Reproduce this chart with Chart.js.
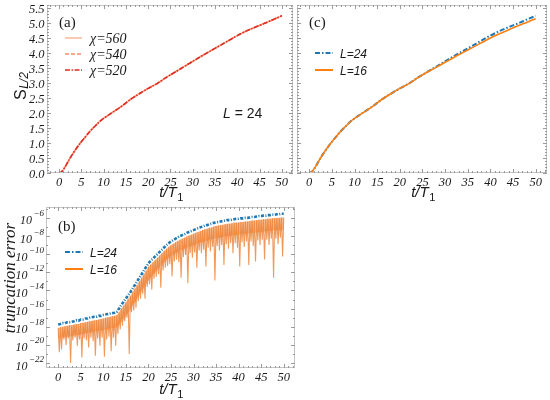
<!DOCTYPE html>
<html>
<head>
<meta charset="utf-8">
<script src="https://cdn.jsdelivr.net/npm/chart.js@4.4.0/dist/chart.umd.min.js"></script>
<style>
  html, body { margin: 0; padding: 0; background: #fff; }
  #wrap { position: relative; width: 550px; height: 400px; }
  #wrap canvas { position: absolute; left: 0; top: 0; }
</style>
</head>
<body>
<div id="wrap">
  <canvas id="chartA" width="550" height="400"></canvas>
  <canvas id="chartC" width="550" height="400"></canvas>
  <canvas id="chartB" width="550" height="400"></canvas>
</div>
<script>
// entanglement entropy S_L/2 against t/T1, panels (a) and (c)
const tS = [0, 0.5, 1, 1.5, 2, 2.5, 3, 4, 5, 6, 7, 8, 9, 10, 12, 14, 16, 18, 20, 22, 24, 26, 28, 30, 32, 34, 36, 38, 40, 42, 44, 46, 48, 50];
const sL24 = [0, 0.03, 0.12, 0.24, 0.37, 0.5, 0.62, 0.84, 1.04, 1.22, 1.4, 1.55, 1.7, 1.82, 2.02, 2.22, 2.45, 2.64, 2.82, 2.98, 3.18, 3.36, 3.54, 3.72, 3.9, 4.07, 4.24, 4.41, 4.58, 4.73, 4.86, 4.98, 5.11, 5.24];
const sL16 = [0, 0.03, 0.12, 0.24, 0.37, 0.5, 0.62, 0.84, 1.04, 1.22, 1.4, 1.55, 1.7, 1.82, 2.02, 2.22, 2.45, 2.64, 2.82, 2.98, 3.18, 3.36, 3.52, 3.69, 3.86, 4.02, 4.18, 4.34, 4.5, 4.64, 4.77, 4.9, 5.02, 5.14];

// truncation error (log10), panel (b): tops on the grid, dips half way between
const tGrid = [0, 0.5, 1, 1.5, 2, 2.5, 3, 3.5, 4, 4.5, 5, 5.5, 6, 6.5, 7, 7.5, 8, 8.5, 9, 9.5,
  10, 10.5, 11, 11.5, 12, 12.5, 13, 13.5, 14, 14.5, 15, 15.5, 16, 16.5, 17, 17.5, 18, 18.5, 19, 19.5,
  20, 20.5, 21, 21.5, 22, 22.5, 23, 23.5, 24, 24.5, 25, 25.5, 26, 26.5, 27, 27.5, 28, 28.5, 29, 29.5,
  30, 30.5, 31, 31.5, 32, 32.5, 33, 33.5, 34, 34.5, 35, 35.5, 36, 36.5, 37, 37.5, 38, 38.5, 39, 39.5,
  40, 40.5, 41, 41.5, 42, 42.5, 43, 43.5, 44, 44.5, 45, 45.5, 46, 46.5, 47, 47.5, 48, 48.5, 49, 49.5, 50];
const errTop24 = [-17.75, -17.7, -17.6, -17.6, -17.5, -17.5, -17.45, -17.4, -17.3, -17.35,
  -17.2, -17.2, -17.1, -17.1, -17.0, -16.95, -16.9, -16.9, -16.8, -16.8,
  -16.7, -16.65, -16.6, -16.55, -16.5, -16.45, -16.35, -16.0, -15.6, -15.25,
  -14.9, -14.55, -14.2, -13.8, -13.4, -13.0, -12.6, -12.2, -11.8, -11.4,
  -11.0, -10.75, -10.5, -10.25, -10.0, -9.75, -9.5, -9.25, -9.0, -8.8,
  -8.6, -8.45, -8.3, -8.15, -8.0, -7.9, -7.8, -7.65, -7.55, -7.45,
  -7.35, -7.25, -7.15, -7.05, -6.95, -6.85, -6.8, -6.7, -6.65, -6.55,
  -6.5, -6.45, -6.4, -6.35, -6.3, -6.25, -6.25, -6.2, -6.15, -6.1,
  -6.1, -6.05, -6.05, -6.0, -6.0, -5.95, -5.9, -5.9, -5.85, -5.8,
  -5.8, -5.75, -5.75, -5.7, -5.7, -5.65, -5.65, -5.6, -5.6, -5.55, -5.55];
const errTop16 = [-18.15, -18.05, -18.0, -17.95, -17.9, -17.85, -17.85, -17.75, -17.7, -17.7,
  -17.6, -17.55, -17.5, -17.45, -17.4, -17.35, -17.3, -17.25, -17.2, -17.15,
  -17.1, -17.0, -16.95, -16.9, -16.85, -16.8, -16.7, -16.4, -16.0, -15.65,
  -15.3, -14.95, -14.6, -14.2, -13.8, -13.4, -13.0, -12.6, -12.2, -11.8,
  -11.4, -11.15, -10.9, -10.65, -10.4, -10.15, -9.9, -9.65, -9.4, -9.2,
  -9.0, -8.85, -8.7, -8.55, -8.4, -8.3, -8.2, -8.05, -7.95, -7.85,
  -7.75, -7.65, -7.55, -7.45, -7.35, -7.25, -7.2, -7.1, -7.05, -6.95,
  -6.9, -6.85, -6.8, -6.75, -6.7, -6.65, -6.65, -6.6, -6.55, -6.5,
  -6.5, -6.45, -6.45, -6.4, -6.4, -6.35, -6.3, -6.3, -6.25, -6.2,
  -6.2, -6.15, -6.15, -6.1, -6.1, -6.05, -6.05, -6.0, -6.0, -5.95, -5.95];
const errDip16 = [-20.8, -20.5, -19.4, -20.0, -19.3, -22.0, -19.5, -19.2, -20.1, -19.4,
  -21.4, -19.3, -19.5, -20.3, -19.2, -19.6, -21.2, -19.3, -20.1, -19.2,
  -21.3, -19.4, -19.1, -20.7, -19.2, -20.1, -18.8, -18.3, -17.9, -17.4,
  -17.0, -21.0, -16.4, -16.2, -15.9, -15.2, -14.9, -14.4, -14.9, -13.6,
  -13.3, -13.9, -12.7, -12.5, -12.2, -13.7, -11.8, -11.5, -11.3, -11.1,
  -12.45, -10.8, -10.6, -10.9, -12.6, -10.3, -10.1, -13.2, -9.9, -10.4,
  -9.8, -11.5, -9.6, -9.9, -9.5, -11.35, -9.3, -9.7, -9.2, -12.9,
  -9.1, -9.6, -9.0, -11.2, -8.9, -9.4, -8.8, -9.9, -8.8, -9.3,
  -11.35, -8.7, -9.2, -8.6, -11.2, -8.6, -9.1, -10.8, -8.5, -9.0,
  -8.4, -10.6, -8.4, -9.0, -8.3, -12.6, -8.3, -8.9, -8.2, -10.25];
// lower edge of the dense part of the L=16 band
const errBand16 = [-19.3, -19.25, -19.2, -19.2, -19.1, -19.1, -19.05, -19.0, -18.95, -18.9,
  -18.85, -18.8, -18.75, -18.7, -18.65, -18.6, -18.55, -18.5, -18.45, -18.4,
  -18.35, -18.3, -18.25, -18.2, -18.15, -18.1, -18.0, -17.8, -17.5, -17.2,
  -16.9, -16.5, -16.1, -15.7, -15.3, -14.9, -14.5, -14.1, -13.7, -13.3,
  -12.9, -12.6, -12.3, -12.0, -11.7, -11.4, -11.1, -10.85, -10.6, -10.4,
  -10.2, -10.05, -9.9, -9.75, -9.6, -9.5, -9.4, -9.3, -9.2, -9.1,
  -9.0, -8.9, -8.8, -8.7, -8.65, -8.55, -8.5, -8.4, -8.35, -8.3,
  -8.25, -8.2, -8.15, -8.1, -8.05, -8.0, -8.0, -7.95, -7.9, -7.85,
  -7.85, -7.8, -7.8, -7.75, -7.75, -7.7, -7.65, -7.65, -7.6, -7.55,
  -7.55, -7.5, -7.5, -7.45, -7.45, -7.4, -7.4, -7.35, -7.35, -7.3, -7.3];

// tick labels
const tTicks = [0, 5, 10, 15, 20, 25, 30, 35, 40, 45, 50];
const sTicks = [0, 0.5, 1, 1.5, 2, 2.5, 3, 3.5, 4, 4.5, 5, 5.5];
const errExps = [-6, -8, -10, -12, -14, -16, -18, -20, -22];

const tMinor = [];
for (let v = -2; v <= 52; v++) tMinor.push(v);
const sMinor = [];
for (let i = 0; i <= 56; i++) sMinor.push(i / 10);
const errMinor = [];
for (let e = -22; e <= -5; e++) errMinor.push(Math.pow(10, e));

const SERIF = '"Liberation Serif", "DejaVu Serif", serif';
const SANS = '"Liberation Sans", "DejaVu Sans", sans-serif';
const INK = '#1a1a1a';

function toXY(xs, ys) {
  return xs.map((x, i) => ({ x: x, y: ys[i] }));
}

function errSeries(tops, dips) {
  const out = [];
  tops.forEach((v, i) => {
    out.push({ x: tGrid[i], y: Math.pow(10, v) });
    if (dips && i < dips.length) out.push({ x: tGrid[i] + 0.25, y: Math.pow(10, dips[i]) });
  });
  return out;
}

function tickMarks(chart, axis, values, len) {
  const ctx = chart.ctx, a = chart.chartArea, sc = chart.scales[axis];
  ctx.beginPath();
  values.forEach(v => {
    const p = Math.round(sc.getPixelForValue(v)) + 0.5;
    if (axis === 'x') {
      if (p < a.left || p > a.right) return;
      ctx.moveTo(p, a.bottom); ctx.lineTo(p, a.bottom - len);
      ctx.moveTo(p, a.top); ctx.lineTo(p, a.top + len);
    } else {
      if (p < a.top - 0.5 || p > a.bottom + 0.5) return;
      ctx.moveTo(a.left, p); ctx.lineTo(a.left + len, p);
      ctx.moveTo(a.right, p); ctx.lineTo(a.right - len, p);
    }
  });
  ctx.stroke();
}

function xTitle(ctx, cx, base) {
  ctx.font = 'italic 15px ' + SANS;
  const w1 = ctx.measureText('t/T').width;
  ctx.font = '11px ' + SANS;
  const w2 = ctx.measureText('1').width;
  const x = cx - (w1 + w2) / 2;
  ctx.textAlign = 'left';
  ctx.font = 'italic 15px ' + SANS;
  ctx.fillText('t/T', x, base);
  ctx.font = '11px ' + SANS;
  ctx.fillText('1', x + w1 + 0.5, base + 3.5);
}

function legend(chart, lg) {
  const ctx = chart.ctx;
  let row = 0;
  chart.data.datasets.forEach(ds => {
    if (!ds.label) return;
    const y = lg.y0 + row * lg.dy;
    row++;
    ctx.save();
    ctx.strokeStyle = ds.legendColor || ds.borderColor;
    ctx.lineWidth = lg.lw || 2;
    ctx.setLineDash(ds.legendDash || ds.borderDash || []);
    ctx.beginPath();
    ctx.moveTo(lg.x0, y); ctx.lineTo(lg.x1, y);
    ctx.stroke();
    ctx.restore();
    ctx.fillStyle = INK;
    ctx.font = lg.font;
    ctx.textAlign = 'left';
    ctx.fillText(ds.label, lg.tx, y + 4.5);
  });
}

function framePlugin(cfg) {
  return {
    id: 'frame',
    afterDraw(chart) {
      const ctx = chart.ctx, a = chart.chartArea;
      const xs = chart.scales.x, ys = chart.scales.y;
      ctx.save();
      ctx.strokeStyle = '#c4c4c4';
      ctx.lineWidth = 1;
      ctx.strokeRect(a.left + 0.5, a.top + 0.5, a.right - a.left - 1, a.bottom - a.top - 1);
      ctx.strokeStyle = '#9a9a9a';
      tickMarks(chart, 'x', tMinor, 2);
      tickMarks(chart, 'x', tTicks, 4);
      tickMarks(chart, 'y', cfg.yMinor, 2);
      tickMarks(chart, 'y', cfg.yMajor, 4);

      ctx.fillStyle = INK;
      ctx.font = 'italic 12.5px ' + SERIF;
      ctx.textAlign = 'center';
      tTicks.forEach(v => ctx.fillText(String(v), xs.getPixelForValue(v), a.bottom + cfg.xLabelDy));

      if (cfg.yLabels === 'lin') {
        ctx.textAlign = 'right';
        sTicks.forEach(v => ctx.fillText(v.toFixed(1), a.left - 2.5, ys.getPixelForValue(v) + 4.5));
      } else if (cfg.yLabels === 'log') {
        errExps.forEach(e => {
          const y = ys.getPixelForValue(Math.pow(10, e));
          const ex = '\u2212' + Math.abs(e);
          ctx.font = 'italic 9px ' + SERIF;
          const we = ctx.measureText(ex).width;
          ctx.textAlign = 'left';
          ctx.fillText(ex, a.left - 2 - we, y - 1.5);
          ctx.font = 'italic 12px ' + SERIF;
          const wb = ctx.measureText('10').width;
          ctx.fillText('10', a.left - 3.5 - we - wb, y + 6.5);
        });
      }

      xTitle(ctx, cfg.xTitleX, cfg.xTitleY);

      ctx.textAlign = 'left';
      ctx.font = '15px ' + SERIF;
      ctx.fillText(cfg.tag, a.left + 12, a.top + cfg.tagDy);

      if (cfg.extra) cfg.extra(ctx, a);
      legend(chart, cfg.legend);
      ctx.restore();
    }
  };
}

const lineBase = { pointRadius: 0, fill: false, cubicInterpolationMode: 'monotone' };

function makeChart(id, datasets, yScale, padding, cfg) {
  return new Chart(document.getElementById(id), {
    type: 'line',
    data: { datasets: datasets },
    options: {
      responsive: false,
      animation: false,
      events: [],
      layout: { padding: padding },
      plugins: { legend: { display: false }, tooltip: { enabled: false }, filler: { propagate: false } },
      scales: {
        x: { type: 'linear', min: -2.7, max: 52.5, display: false },
        y: Object.assign({ display: false }, yScale)
      }
    },
    plugins: [framePlugin(cfg)]
  });
}

// (a)
makeChart('chartA', [
  Object.assign({ label: '\u03c7=560', data: toXY(tS, sL24), borderColor: '#fcbba1', borderWidth: 1.6, order: 2 }, lineBase),
  Object.assign({ label: '\u03c7=540', data: toXY(tS, sL24), borderColor: '#fb8a6a', borderDash: [4, 2], borderWidth: 1.6, order: 1 }, lineBase),
  Object.assign({ label: '\u03c7=520', data: toXY(tS, sL24), borderColor: '#de2d26', borderDash: [5, 1.5, 1.5, 1.5], borderWidth: 1.6, order: 0 }, lineBase)
], { type: 'linear', min: 0, max: 5.6 },
{ left: 47, right: 257, top: 5, bottom: 227 },
{
  yMajor: sTicks, yMinor: sMinor, yLabels: 'lin', xLabelDy: 12.5,
  xTitleX: 171, xTitleY: 197, tag: '(a)', tagDy: 22,
  legend: { x0: 65, x1: 82, tx: 90, y0: 38, dy: 16, font: 'italic 14px ' + SERIF, lw: 1.6 },
  extra: function (ctx) {
    ctx.fillStyle = INK;
    ctx.textAlign = 'left';
    ctx.font = 'italic 14px ' + SANS;
    ctx.fillText('L', 223, 118);
    const w = ctx.measureText('L').width;
    ctx.font = '14px ' + SANS;
    ctx.fillText(' = 24', 223 + w, 118);
    // y axis title S_{L/2}
    ctx.save();
    ctx.translate(26, 100);
    ctx.rotate(-Math.PI / 2);
    ctx.font = '16px ' + SANS;
    ctx.fillText('S', 0, 0);
    const ws = ctx.measureText('S').width;
    ctx.font = 'italic 12px ' + SANS;
    ctx.fillText('L/2', ws + 0.5, 1.5);
    ctx.restore();
  }
});

// (c)
makeChart('chartC', [
  Object.assign({ label: 'L=24', data: toXY(tS, sL24), borderColor: '#1f77b4', borderDash: [5, 2, 1.5, 2], borderWidth: 2, order: 1 }, lineBase),
  Object.assign({ label: 'L=16', data: toXY(tS, sL16), borderColor: '#ff7f0e', borderWidth: 1.6, order: 0 }, lineBase)
], { type: 'linear', min: 0, max: 5.6 },
{ left: 297, right: 3, top: 5, bottom: 227 },
{
  yMajor: sTicks, yMinor: sMinor, yLabels: 'none', xLabelDy: 12.5,
  xTitleX: 423, xTitleY: 197, tag: '(c)', tagDy: 22,
  legend: { x0: 315, x1: 333, tx: 340, y0: 53, dy: 17, font: 'italic 12px ' + SANS, lw: 2 }
});

// (b)
makeChart('chartB', [
  { label: 'L=24', data: errSeries(errTop24, null), borderColor: '#1f77b4', borderDash: [3, 1.5, 1, 1.5], legendDash: [5, 2, 1.5, 2], borderWidth: 2.6, pointRadius: 0, fill: false, order: 3 },
  { label: 'L=16', data: errSeries(errTop16, errDip16), borderColor: 'rgba(236,128,50,0.8)', legendColor: '#ff7f0e', borderWidth: 1.1, pointRadius: 0, fill: false, order: 0 },
  { data: errSeries(errTop16, null), borderWidth: 0, pointRadius: 0, fill: '+1', backgroundColor: 'rgba(244,165,110,0.75)', order: 1 },
  { data: errSeries(errBand16, null), borderWidth: 0, pointRadius: 0, fill: false, order: 2 }
], { type: 'logarithmic', min: Math.pow(10, -22.55), max: Math.pow(10, -4.8) },
{ left: 46, right: 255, top: 207, bottom: 32 },
{
  yMajor: errExps.map(e => Math.pow(10, e)), yMinor: errMinor, yLabels: 'log', xLabelDy: 13,
  xTitleX: 171, xTitleY: 394, tag: '(b)', tagDy: 24,
  legend: { x0: 65, x1: 83, tx: 90, y0: 252, dy: 17, font: 'italic 12px ' + SANS, lw: 2 },
  extra: function (ctx) {
    ctx.save();
    ctx.fillStyle = INK;
    ctx.translate(15, 278);
    ctx.rotate(-Math.PI / 2);
    ctx.textAlign = 'center';
    ctx.font = 'italic 17px ' + SERIF;
    ctx.fillText('truncation error', 0, 0);
    ctx.restore();
  }
});
</script>
</body>
</html>
